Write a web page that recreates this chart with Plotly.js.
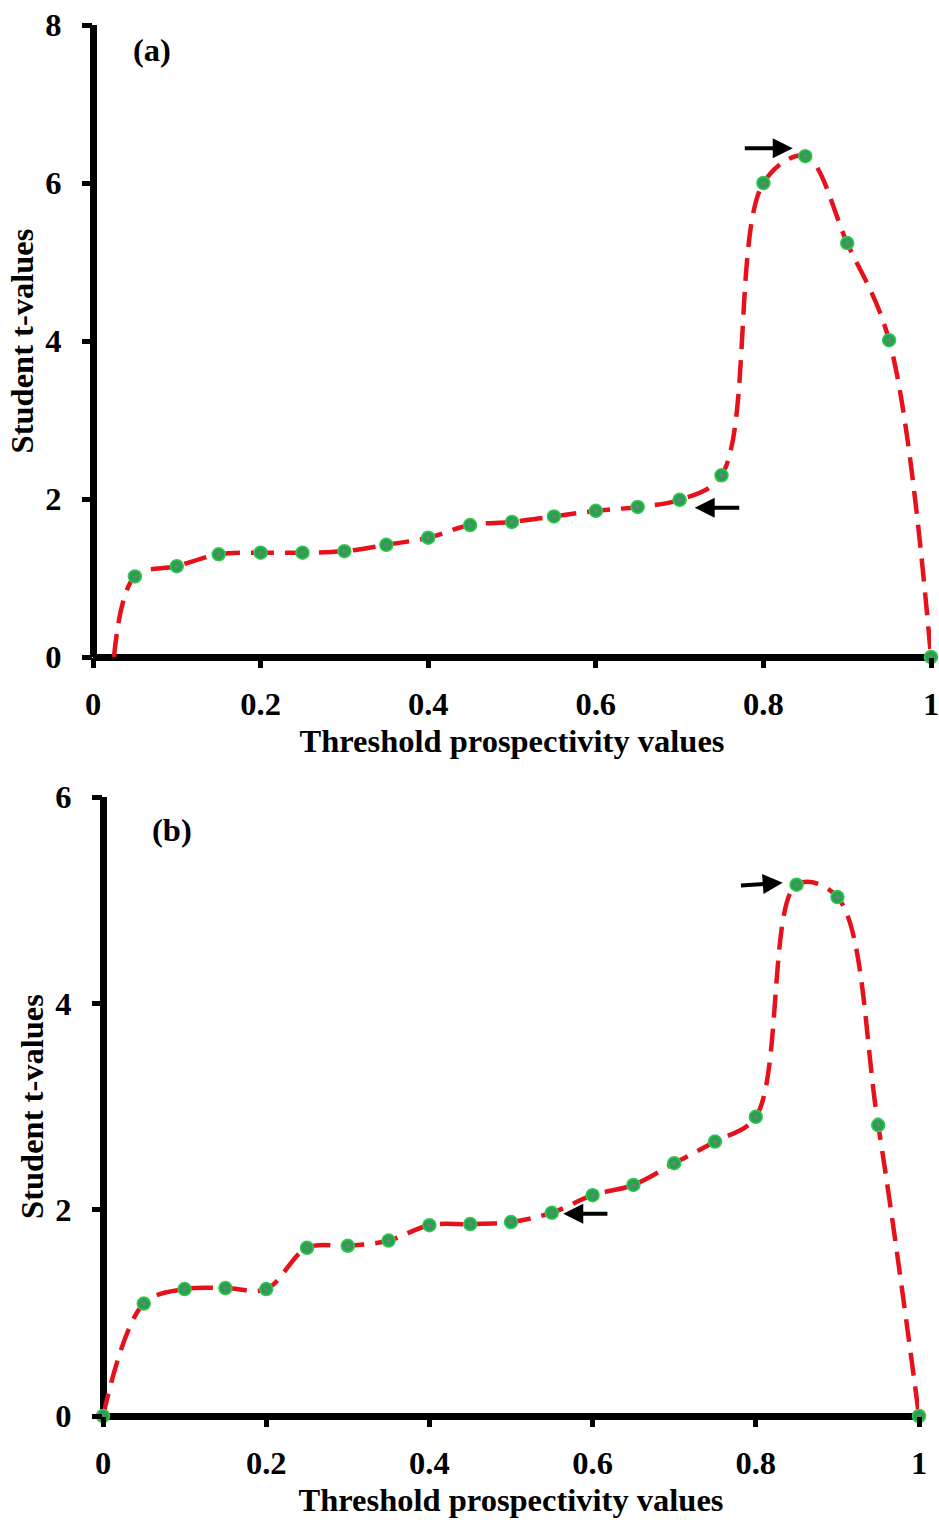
<!DOCTYPE html>
<html>
<head>
<meta charset="utf-8">
<script src="https://cdn.plot.ly/plotly-3.0.1.min.js"></script>
<style>html,body{margin:0;padding:0;background:#fff;}#chart{width:939px;height:1520px;}</style>
</head>
<body>
<div id="chart"></div>
<script>
// ---- Data ----
// Panel (a)
const thresholdA = [0.05,0.10,0.15,0.20,0.25,0.30,0.35,0.40,0.45,0.50,0.55,0.60,0.65,0.70,0.75,0.80,0.85,0.90,0.95,1.00];
const tValuesA   = [1.02,1.15,1.30,1.32,1.32,1.34,1.42,1.51,1.67,1.71,1.78,1.85,1.90,1.99,2.30,6.00,6.34,5.24,4.01,0.00];
const lineStartA = [0.025, 0]; // the dashed curve starts on the x axis here (no marker)
// Panel (b)
const thresholdB = [0.00,0.05,0.10,0.15,0.20,0.25,0.30,0.35,0.40,0.45,0.50,0.55,0.60,0.65,0.70,0.75,0.80,0.85,0.90,0.95,1.00];
const tValuesB   = [0.00,1.09,1.23,1.24,1.23,1.63,1.65,1.70,1.85,1.86,1.88,1.97,2.14,2.24,2.45,2.66,2.90,5.15,5.03,2.82,0.00];
// Arrows: [headX, headY, tailX, tailY]
const arrowsA = [[0.835,6.44,0.776,6.44],[0.718,1.89,0.773,1.89]];
const arrowsB = [[0.833,5.17,0.780,5.14],[0.564,1.96,0.620,1.96]];
const panelLabels = ['(a)','(b)'];
const xTitle = 'Threshold prospectivity values';
const yTitle = 'Student t-values';

// ---- Styles ----
const FONT = {family:'"Liberation Serif","Times New Roman",serif', size:32.5, color:'#000', weight:700};
const LINE = {color:'#e5121b', width:4.5, dash:'23px,11px', shape:'spline', smoothing:1};
const MARK = {symbol:'circle', size:13, color:'#27a348', line:{color:'#3cc35e', width:1.5}};
const DOT  = {symbol:'circle', size:4, color:'#6b7f8c'};

function lineTrace(xs, ys, xa, ya){
  return {x:xs, y:ys, xaxis:xa, yaxis:ya, mode:'lines', line:LINE, hoverinfo:'skip', showlegend:false};
}
function markTrace(xs, ys, xa, ya){
  return {x:xs, y:ys, xaxis:xa, yaxis:ya, mode:'markers', marker:MARK, cliponaxis:false, showlegend:false};
}
function dotTrace(xs, ys, xa, ya){
  return {x:xs, y:ys, xaxis:xa, yaxis:ya, mode:'markers', marker:DOT, cliponaxis:false, hoverinfo:'skip', showlegend:false};
}

const traces = [
  lineTrace([lineStartA[0]].concat(thresholdA), [lineStartA[1]].concat(tValuesA), 'x', 'y'),
  markTrace(thresholdA, tValuesA, 'x', 'y'),
  dotTrace(thresholdA, tValuesA, 'x', 'y'),
  lineTrace(thresholdB, tValuesB, 'x2', 'y2'),
  markTrace(thresholdB, tValuesB, 'x2', 'y2'),
  dotTrace(thresholdB, tValuesB, 'x2', 'y2')
];

function xAxis(domain, anchor){
  return {domain:domain, anchor:anchor, range:[0,1], dtick:0.2, tick0:0,
    showline:false, showgrid:false, zeroline:true, zerolinecolor:'#000', zerolinewidth:7,
    ticks:'outside', ticklen:10, tickwidth:5, tickcolor:'#000', tickfont:FONT, ticklabelstandoff:8,
    ticklabeloverflow:'allow',
    title:{text:xTitle, font:FONT, standoff:8}, fixedrange:true};
}
function yAxis(domain, anchor, top){
  return {domain:domain, anchor:anchor, range:[0,top], dtick:2, tick0:0,
    showline:false, showgrid:false, zeroline:true, zerolinecolor:'#000', zerolinewidth:7,
    ticks:'outside', ticklen:10, tickwidth:5, tickcolor:'#000', tickfont:FONT, ticklabelstandoff:14,
    ticklabeloverflow:'allow',
    title:{text:yTitle, font:FONT, standoff:1}, fixedrange:true};
}

function arrowAnns(list, xr, yr){
  return list.map(a => ({x:a[0], y:a[1], ax:a[2], ay:a[3], xref:xr, yref:yr, axref:xr, ayref:yr,
    text:'', showarrow:true, arrowhead:2, arrowsize:1, arrowwidth:4, arrowcolor:'#000', standoff:0}));
}

const layout = {
  width:939, height:1520,
  margin:{l:0, r:0, t:0, b:0},
  paper_bgcolor:'#fff', plot_bgcolor:'#fff',
  font:FONT,
  showlegend:false,
  xaxis: xAxis([93/939, 931/939], 'y'),
  yaxis: yAxis([1-657/1520, 1-25/1520], 'x', 8),
  xaxis2: xAxis([103/939, 919/939], 'y2'),
  yaxis2: yAxis([1-1416/1520, 1-797/1520], 'x2', 6),
  annotations: [
    {text:panelLabels[0], xref:'x domain', yref:'y domain', x:0.07, y:0.96, showarrow:false, font:FONT, xanchor:'center', yanchor:'middle'},
    {text:panelLabels[1], xref:'x2 domain', yref:'y2 domain', x:0.085, y:0.947, showarrow:false, font:FONT, xanchor:'center', yanchor:'middle'}
  ].concat(arrowAnns(arrowsA,'x','y'), arrowAnns(arrowsB,'x2','y2'))
};

Plotly.newPlot('chart', traces, layout, {displayModeBar:false, staticPlot:true});
</script>
</body>
</html>
